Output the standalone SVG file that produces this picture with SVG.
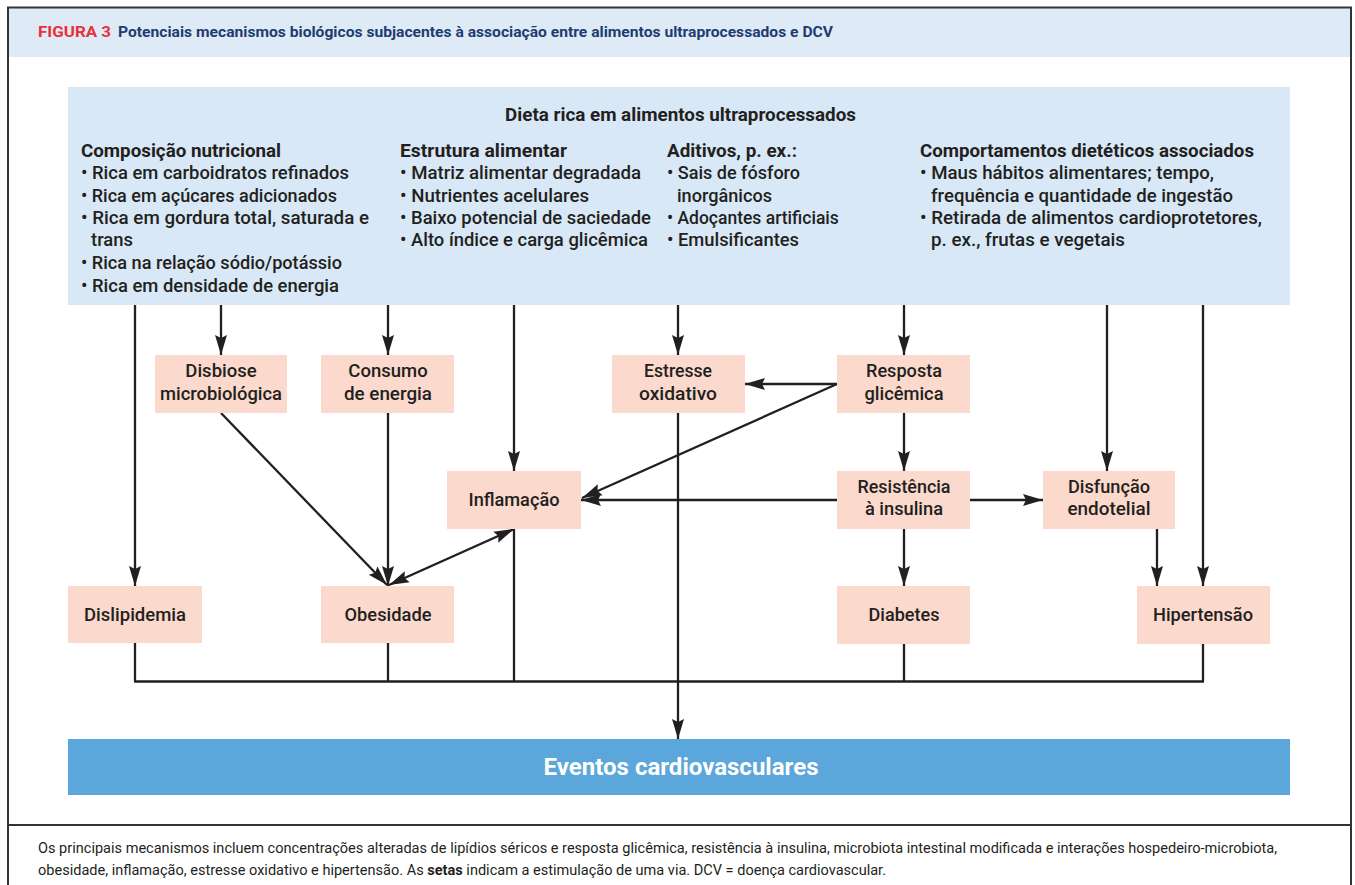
<svg xmlns="http://www.w3.org/2000/svg" width="1355" height="885" viewBox="0 0 1355 885">
  <style>
    .frame { fill: none; stroke: #333333; stroke-width: 2; }
    .title { font-family: Roboto, "Liberation Sans", Arial, sans-serif; font-size: 14px; font-weight: bold; }
    .body { font-family: Roboto, "Liberation Sans", Arial, sans-serif; font-size: 17.5px; font-weight: 500; fill: #231f20; }
    .head { font-weight: bold; }
    .node rect { fill: #fbd9cc; }
    .node text { font-family: Roboto, "Liberation Sans", Arial, sans-serif; font-size: 18.5px; font-weight: 500; fill: #231f20; text-anchor: middle; }
    .wire { fill: none; stroke: #231f20; stroke-width: 2.3; }
    .caption { font-family: Roboto, "Liberation Sans", Arial, sans-serif; font-size: 14px; fill: #231f20; }
  </style>
  <defs>
    <marker id="arrow" markerUnits="userSpaceOnUse" markerWidth="20" markerHeight="14" viewBox="0 0 20 14" refX="20" refY="7" orient="auto-start-reverse">
      <path d="M0,1 L20,7 L0,13 L3,7 z" fill="#231f20"/>
    </marker>
  </defs>

  <!-- page frame and header band -->
  <rect x="0" y="0" width="1355" height="885" fill="#ffffff"/>
  <rect x="8" y="8" width="1343" height="49" fill="#deeaf6"/>
  <path class="frame" d="M8,890 V7.5 H1351 V890"/>
  <line x1="8" y1="825" x2="1351" y2="825" stroke="#333333" stroke-width="2"/>
  <text class="title" x="38" y="37" fill="#e8303a" textLength="73" lengthAdjust="spacingAndGlyphs">FIGURA 3</text>
  <text class="title" x="118" y="37" fill="#1d3d70" textLength="715" lengthAdjust="spacingAndGlyphs">Potenciais mecanismos biológicos subjacentes à associação entre alimentos ultraprocessados e DCV</text>

  <!-- source box: ultra-processed diet -->
  <g id="dieta">
    <rect x="68" y="87" width="1222" height="218" fill="#d8e8f6"/>
    <text class="body head" x="680.5" y="121" text-anchor="middle" textLength="351" lengthAdjust="spacingAndGlyphs">Dieta rica em alimentos ultraprocessados</text>

    <text class="body head" x="81" y="157" textLength="200" lengthAdjust="spacingAndGlyphs">Composição nutricional</text>
    <text class="body" x="81" y="179" textLength="268" lengthAdjust="spacingAndGlyphs">• Rica em carboidratos refinados</text>
    <text class="body" x="81" y="202" textLength="256" lengthAdjust="spacingAndGlyphs">• Rica em açúcares adicionados</text>
    <text class="body" x="81" y="224" textLength="288" lengthAdjust="spacingAndGlyphs">• Rica em gordura total, saturada e</text>
    <text class="body" x="91" y="246" textLength="42" lengthAdjust="spacingAndGlyphs">trans</text>
    <text class="body" x="81" y="269" textLength="261" lengthAdjust="spacingAndGlyphs">• Rica na relação sódio/potássio</text>
    <text class="body" x="81" y="292" textLength="258" lengthAdjust="spacingAndGlyphs">• Rica em densidade de energia</text>

    <text class="body head" x="400" y="157" textLength="167" lengthAdjust="spacingAndGlyphs">Estrutura alimentar</text>
    <text class="body" x="400" y="179" textLength="241" lengthAdjust="spacingAndGlyphs">• Matriz alimentar degradada</text>
    <text class="body" x="400" y="202" textLength="189" lengthAdjust="spacingAndGlyphs">• Nutrientes acelulares</text>
    <text class="body" x="400" y="224" textLength="251" lengthAdjust="spacingAndGlyphs">• Baixo potencial de saciedade</text>
    <text class="body" x="400" y="246" textLength="248" lengthAdjust="spacingAndGlyphs">• Alto índice e carga glicêmica</text>

    <text class="body head" x="667" y="157" textLength="130" lengthAdjust="spacingAndGlyphs">Aditivos, p. ex.:</text>
    <text class="body" x="667" y="179" textLength="133" lengthAdjust="spacingAndGlyphs">• Sais de fósforo</text>
    <text class="body" x="677" y="202" textLength="95" lengthAdjust="spacingAndGlyphs">inorgânicos</text>
    <text class="body" x="667" y="224">• Adoçantes artificiais</text>
    <text class="body" x="667" y="246" textLength="132" lengthAdjust="spacingAndGlyphs">• Emulsificantes</text>

    <text class="body head" x="920" y="157" textLength="334" lengthAdjust="spacingAndGlyphs">Comportamentos dietéticos associados</text>
    <text class="body" x="920" y="179" textLength="294" lengthAdjust="spacingAndGlyphs">• Maus hábitos alimentares; tempo,</text>
    <text class="body" x="931" y="202" textLength="302" lengthAdjust="spacingAndGlyphs">frequência e quantidade de ingestão</text>
    <text class="body" x="920" y="224" textLength="342" lengthAdjust="spacingAndGlyphs">• Retirada de alimentos cardioprotetores,</text>
    <text class="body" x="931" y="246" textLength="194" lengthAdjust="spacingAndGlyphs">p. ex., frutas e vegetais</text>
  </g>

  <!-- connectors -->
  <g id="connectors">
    <!-- drops from the diet box -->
    <line class="wire" x1="135" y1="305" x2="135" y2="586" marker-end="url(#arrow)"/>
    <line class="wire" x1="221" y1="305" x2="221" y2="355" marker-end="url(#arrow)"/>
    <line class="wire" x1="388" y1="305" x2="388" y2="355" marker-end="url(#arrow)"/>
    <line class="wire" x1="514" y1="305" x2="514" y2="471" marker-end="url(#arrow)"/>
    <line class="wire" x1="678" y1="305" x2="678" y2="355" marker-end="url(#arrow)"/>
    <line class="wire" x1="904" y1="305" x2="904" y2="355" marker-end="url(#arrow)"/>
    <line class="wire" x1="1107" y1="305" x2="1107" y2="471" marker-end="url(#arrow)"/>
    <line class="wire" x1="1203" y1="305" x2="1203" y2="586" marker-end="url(#arrow)"/>
    <!-- intermediate pathways -->
    <line class="wire" x1="221" y1="413" x2="387" y2="585" marker-end="url(#arrow)"/>
    <line class="wire" x1="388" y1="413" x2="388" y2="586" marker-end="url(#arrow)"/>
    <line class="wire" x1="389" y1="585" x2="514" y2="529" marker-start="url(#arrow)" marker-end="url(#arrow)"/>
    <line class="wire" x1="837" y1="384" x2="745" y2="384" marker-end="url(#arrow)"/>
    <line class="wire" x1="837" y1="384" x2="582" y2="498" marker-end="url(#arrow)"/>
    <line class="wire" x1="837" y1="500" x2="581" y2="500" marker-end="url(#arrow)"/>
    <line class="wire" x1="970" y1="500" x2="1043" y2="500" marker-end="url(#arrow)"/>
    <line class="wire" x1="904" y1="413" x2="904" y2="471" marker-end="url(#arrow)"/>
    <line class="wire" x1="904" y1="529" x2="904" y2="586" marker-end="url(#arrow)"/>
    <line class="wire" x1="1157" y1="529" x2="1157" y2="586" marker-end="url(#arrow)"/>
    <!-- collector towards cardiovascular events -->
    <line class="wire" x1="135" y1="643" x2="135" y2="681"/>
    <line class="wire" x1="388" y1="643" x2="388" y2="681"/>
    <line class="wire" x1="514" y1="529" x2="514" y2="681"/>
    <line class="wire" x1="904" y1="644" x2="904" y2="681"/>
    <line class="wire" x1="1203" y1="644" x2="1203" y2="681"/>
    <line class="wire" x1="134" y1="681.5" x2="1204" y2="681.5" stroke-width="3"/>
    <line class="wire" x1="678" y1="413" x2="678" y2="739" marker-end="url(#arrow)"/>
  </g>

  <!-- mechanism nodes -->
  <g id="disbiose" class="node">
    <rect x="155" y="355" width="132" height="58"/>
    <text x="221" y="377">Disbiose</text>
    <text x="221" y="400" textLength="122" lengthAdjust="spacingAndGlyphs">microbiológica</text>
  </g>
  <g id="consumo" class="node">
    <rect x="321" y="355" width="133" height="58"/>
    <text x="388" y="377">Consumo</text>
    <text x="388" y="400" textLength="88" lengthAdjust="spacingAndGlyphs">de energia</text>
  </g>
  <g id="estresse" class="node">
    <rect x="612" y="355" width="133" height="58"/>
    <text x="678" y="377" textLength="68" lengthAdjust="spacingAndGlyphs">Estresse</text>
    <text x="678" y="400" textLength="78" lengthAdjust="spacingAndGlyphs">oxidativo</text>
  </g>
  <g id="resposta" class="node">
    <rect x="837" y="355" width="133" height="58"/>
    <text x="904" y="377" textLength="76" lengthAdjust="spacingAndGlyphs">Resposta</text>
    <text x="904" y="400" textLength="79" lengthAdjust="spacingAndGlyphs">glicêmica</text>
  </g>
  <g id="inflamacao" class="node">
    <rect x="447" y="471" width="134" height="58"/>
    <text x="514" y="506" textLength="91" lengthAdjust="spacingAndGlyphs">Inflamação</text>
  </g>
  <g id="resistencia" class="node">
    <rect x="837" y="471" width="133" height="58"/>
    <text x="904" y="493" textLength="93" lengthAdjust="spacingAndGlyphs">Resistência</text>
    <text x="904" y="515" textLength="78" lengthAdjust="spacingAndGlyphs">à insulina</text>
  </g>
  <g id="disfuncao" class="node">
    <rect x="1043" y="471" width="132" height="58"/>
    <text x="1109" y="493" textLength="82" lengthAdjust="spacingAndGlyphs">Disfunção</text>
    <text x="1109" y="515" textLength="83" lengthAdjust="spacingAndGlyphs">endotelial</text>
  </g>
  <g id="dislipidemia" class="node">
    <rect x="68" y="586" width="134" height="57"/>
    <text x="135" y="621" textLength="102" lengthAdjust="spacingAndGlyphs">Dislipidemia</text>
  </g>
  <g id="obesidade" class="node">
    <rect x="321" y="586" width="133" height="57"/>
    <text x="388" y="621" textLength="87" lengthAdjust="spacingAndGlyphs">Obesidade</text>
  </g>
  <g id="diabetes" class="node">
    <rect x="837" y="586" width="133" height="58"/>
    <text x="904" y="621" textLength="71" lengthAdjust="spacingAndGlyphs">Diabetes</text>
  </g>
  <g id="hipertensao" class="node">
    <rect x="1137" y="586" width="133" height="58"/>
    <text x="1203" y="621" textLength="100" lengthAdjust="spacingAndGlyphs">Hipertensão</text>
  </g>

  <!-- outcome -->
  <g id="eventos">
    <rect x="68" y="739" width="1222" height="56" fill="#5ba6db"/>
    <text x="681" y="775" font-family="Roboto, Liberation Sans, Arial, sans-serif" font-size="24" font-weight="bold" fill="#ffffff" text-anchor="middle" textLength="275" lengthAdjust="spacingAndGlyphs">Eventos cardiovasculares</text>
  </g>

  <!-- legend -->
  <text class="caption" x="38" y="853" textLength="1239" lengthAdjust="spacingAndGlyphs">Os principais mecanismos incluem concentrações alteradas de lipídios séricos e resposta glicêmica, resistência à insulina, microbiota intestinal modificada e interações hospedeiro-microbiota,</text>
  <text class="caption" x="38" y="875" textLength="848" lengthAdjust="spacingAndGlyphs">obesidade, inflamação, estresse oxidativo e hipertensão. As <tspan font-weight="bold">setas</tspan> indicam a estimulação de uma via. DCV = doença cardiovascular.</text>
</svg>
